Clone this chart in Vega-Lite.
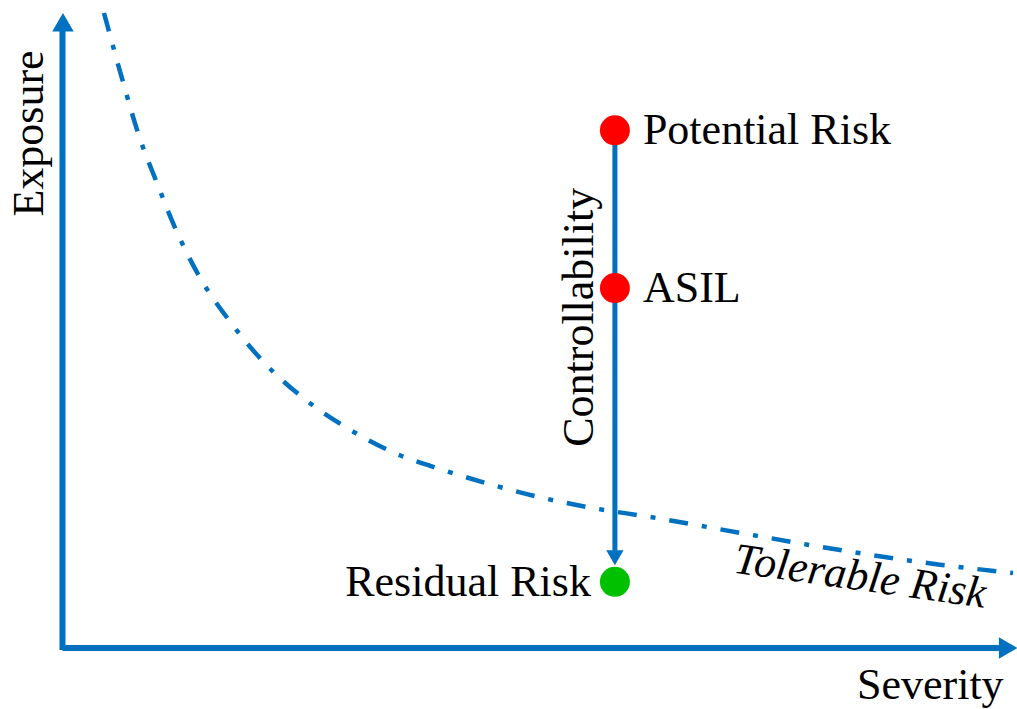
{
  "$schema": "https://vega.github.io/schema/vega-lite/v6.json",
  "width": 1017,
  "height": 709,
  "autosize": {"type": "none"},
  "padding": 0,
  "background": "white",
  "config": {"view": {"stroke": null}},
  "datasets": {
    "curve": [
      {"x": 4.42, "y": 99.84}, {"x": 6.42, "y": 89.0}, {"x": 8.0, "y": 81.0},
      {"x": 10.0, "y": 73.1}, {"x": 12.1, "y": 65.4}, {"x": 14.5, "y": 58.3},
      {"x": 17.7, "y": 51.3}, {"x": 21.2, "y": 45.0}, {"x": 25.4, "y": 39.3},
      {"x": 30.0, "y": 34.6}, {"x": 34.8, "y": 30.8}, {"x": 40.1, "y": 28.0},
      {"x": 45.4, "y": 25.6}, {"x": 50.6, "y": 23.6}, {"x": 55.9, "y": 22.0},
      {"x": 61.9, "y": 20.6}, {"x": 71.4, "y": 18.1}, {"x": 81.9, "y": 15.4},
      {"x": 92.4, "y": 13.1}, {"x": 100.1, "y": 11.8}
    ],
    "axes": [
      {"name": "Exposure axis", "x": 0.05, "y": -0.3, "x2": 0.05, "y2": 97.0},
      {"name": "Severity axis", "x": 0.05, "y": 0, "x2": 98.8, "y2": 0}
    ],
    "axisHeads": [
      {"name": "Exposure", "x": 0.1, "y": 98.4, "shape": "triangle-up"},
      {"name": "Severity", "x": 99.6, "y": 0, "shape": "triangle-right"}
    ],
    "controllability": [
      {"name": "Controllability", "x": 58.2, "y": 81.4, "x2": 58.2, "y2": 15.3}
    ],
    "controllabilityHead": [
      {"name": "Controllability", "x": 58.2, "y": 14.2}
    ],
    "points": [
      {"name": "Potential Risk", "kind": "risk", "x": 58.2, "y": 81.4},
      {"name": "ASIL", "kind": "risk", "x": 58.2, "y": 56.6},
      {"name": "Residual Risk", "kind": "residual", "x": 58.2, "y": 10.4}
    ],
    "titles": [
      {"name": "Exposure", "x": -2.0, "y": 80.9},
      {"name": "Severity", "x": 91.4, "y": -8.0},
      {"name": "Controllability", "x": 55.9, "y": 52.0},
      {"name": "Tolerable Risk", "x": 83.8, "y": 9.1}
    ]
  },
  "encoding": {
    "x": {"field": "x", "type": "quantitative", "scale": {"domain": [-6.526, 100.526], "nice": false, "zero": false}, "axis": null},
    "y": {"field": "y", "type": "quantitative", "scale": {"domain": [-9.591, 101.887], "nice": false, "zero": false}, "axis": null}
  },
  "layer": [
    {
      "data": {"name": "curve"},
      "mark": {"type": "line", "color": "#0070C0", "strokeWidth": 4.5, "strokeDash": [19, 14, 5, 14], "interpolate": "monotone", "strokeCap": "butt"},
      "encoding": {}
    },
    {
      "data": {"name": "axes"},
      "mark": {"type": "rule", "color": "#0070C0", "strokeWidth": 6},
      "encoding": {
        "x2": {"field": "x2"},
        "y2": {"field": "y2"}
      }
    },
    {
      "data": {"name": "axisHeads"},
      "mark": {"type": "point", "filled": true, "color": "#0070C0", "opacity": 1, "size": 460},
      "encoding": {
        "shape": {"field": "shape", "type": "nominal", "scale": null}
      }
    },
    {
      "data": {"name": "controllability"},
      "mark": {"type": "rule", "color": "#0070C0", "strokeWidth": 5},
      "encoding": {
        "x2": {"field": "x2"},
        "y2": {"field": "y2"}
      }
    },
    {
      "data": {"name": "controllabilityHead"},
      "mark": {"type": "point", "filled": true, "color": "#0070C0", "opacity": 1, "size": 300, "shape": "triangle-down"},
      "encoding": {}
    },
    {
      "data": {"name": "points"},
      "mark": {"type": "point", "filled": true, "opacity": 1, "size": 900, "shape": "circle"},
      "encoding": {
        "color": {"field": "kind", "type": "nominal", "scale": {"domain": ["risk", "residual"], "range": ["#FF0000", "#00C000"]}, "legend": null}
      }
    },
    {
      "data": {"name": "points"},
      "transform": [{"filter": "datum.name !== 'Residual Risk'"}],
      "mark": {"type": "text", "font": "'Liberation Serif', 'Times New Roman', Times, 'DejaVu Serif', serif", "fontSize": 44, "color": "black", "align": "left", "baseline": "middle", "dx": 28, "dy": 1},
      "encoding": {"text": {"field": "name"}}
    },
    {
      "data": {"name": "points"},
      "transform": [{"filter": "datum.name === 'Residual Risk'"}],
      "mark": {"type": "text", "font": "'Liberation Serif', 'Times New Roman', Times, 'DejaVu Serif', serif", "fontSize": 44, "color": "black", "align": "right", "baseline": "middle", "dx": -24, "dy": 1},
      "encoding": {"text": {"field": "name"}}
    },
    {
      "data": {"name": "titles"},
      "transform": [{"filter": "datum.name === 'Exposure' || datum.name === 'Controllability'"}],
      "mark": {"type": "text", "font": "'Liberation Serif', 'Times New Roman', Times, 'DejaVu Serif', serif", "fontSize": 44, "color": "black", "align": "center", "baseline": "alphabetic", "angle": 270},
      "encoding": {"text": {"field": "name"}}
    },
    {
      "data": {"name": "titles"},
      "transform": [{"filter": "datum.name === 'Severity'"}],
      "mark": {"type": "text", "font": "'Liberation Serif', 'Times New Roman', Times, 'DejaVu Serif', serif", "fontSize": 44, "color": "black", "align": "center", "baseline": "alphabetic"},
      "encoding": {"text": {"field": "name"}}
    },
    {
      "data": {"name": "titles"},
      "transform": [{"filter": "datum.name === 'Tolerable Risk'"}],
      "mark": {"type": "text", "font": "'Liberation Serif', 'Times New Roman', Times, 'DejaVu Serif', serif", "fontSize": 44, "fontStyle": "italic", "color": "black", "align": "center", "baseline": "alphabetic", "angle": 8},
      "encoding": {"text": {"field": "name"}}
    }
  ]
}
